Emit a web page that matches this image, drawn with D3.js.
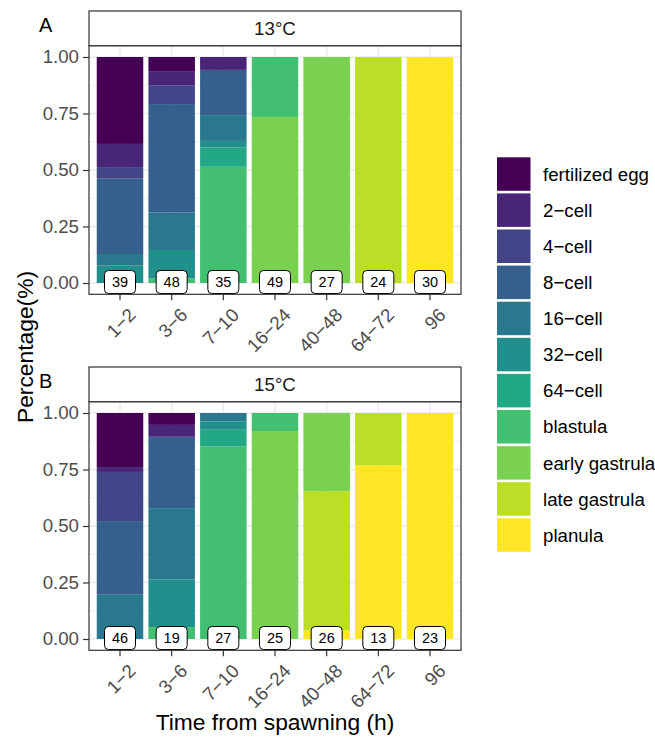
<!DOCTYPE html>
<html>
<head>
<meta charset="utf-8">
<script src="https://cdn.jsdelivr.net/npm/d3@7"></script>
<style>
  body { margin: 0; background: #fff; }
  text { font-family: "Liberation Sans", Arial, sans-serif; }
</style>
</head>
<body>
<svg id="chart" width="655" height="740"></svg>
<script>
// developmental stages, top of stack first
var stages = ["fertilized egg", "2\u2212cell", "4\u2212cell", "8\u2212cell", "16\u2212cell",
  "32\u2212cell", "64\u2212cell", "blastula", "early gastrula", "late gastrula", "planula"];
var stageColors = ["#440154", "#482576", "#414487", "#35608D", "#2A788E", "#21908C",
  "#22A884", "#43BF71", "#7AD151", "#BBDF27", "#FDE725"];
var times = ["1\u22122", "3\u22126", "7\u221210", "16\u221224", "40\u221248", "64\u221272", "96"];

// embryo counts per stage (rows follow stages) for each time
var counts13 = [
  [15, 3, 0, 0, 0, 0, 0],
  [4, 3, 2, 0, 0, 0, 0],
  [2, 4, 0, 0, 0, 0, 0],
  [13, 23, 7, 0, 0, 0, 0],
  [2, 8, 4, 0, 0, 0, 0],
  [3, 6, 1, 0, 0, 0, 0],
  [0, 0, 3, 0, 0, 0, 0],
  [0, 1, 18, 13, 0, 0, 0],
  [0, 0, 0, 36, 27, 0, 0],
  [0, 0, 0, 0, 0, 24, 0],
  [0, 0, 0, 0, 0, 0, 30]
];
var counts15 = [
  [11, 1, 0, 0, 0, 0, 0],
  [1, 1, 0, 0, 0, 0, 0],
  [10, 0, 0, 0, 0, 0, 0],
  [15, 6, 0, 0, 0, 0, 0],
  [9, 6, 1, 0, 0, 0, 0],
  [0, 4, 1, 0, 0, 0, 0],
  [0, 0, 2, 0, 0, 0, 0],
  [0, 1, 23, 2, 0, 0, 0],
  [0, 0, 0, 23, 9, 0, 0],
  [0, 0, 0, 0, 16, 3, 0],
  [0, 0, 0, 0, 1, 10, 23]
];
var n13 = [39, 48, 35, 49, 27, 24, 30];
var n15 = [46, 19, 27, 25, 26, 13, 23];
var yTicks = [0, 0.25, 0.5, 0.75, 1];
var yMinor = [0.125, 0.375, 0.625, 0.875];

var svg = d3.select("#chart");
var left = 89, right = 461;

var x = d3.scaleBand().domain(times).range([left, right])
  .paddingInner(0.1).paddingOuter(0.15);
var color = d3.scaleOrdinal().domain(stages).range(stageColors);

function drawPanel(counts, nums, title, tag, stripTop) {
  var top = stripTop + 34.7, bottom = top + 248.6;
  var y = d3.scaleLinear().domain([-0.05, 1.05]).range([bottom, top]);
  var g = svg.append("g");

  // table -> rows per time
  var rows = times.map(function (t, i) {
    var r = { time: t };
    stages.forEach(function (s, k) { r[s] = counts[k][i]; });
    return r;
  });
  var stack = d3.stack().keys(stages.slice().reverse()).offset(d3.stackOffsetExpand);
  var series = stack(rows);

  // grid
  g.selectAll(".minor").data(yMinor).enter().append("line")
    .attr("x1", left).attr("x2", right)
    .attr("y1", function (d) { return y(d); }).attr("y2", function (d) { return y(d); })
    .attr("stroke", "#ebebeb").attr("stroke-width", 0.8);
  g.selectAll(".major").data(yTicks).enter().append("line")
    .attr("x1", left).attr("x2", right)
    .attr("y1", function (d) { return y(d); }).attr("y2", function (d) { return y(d); })
    .attr("stroke", "#ebebeb").attr("stroke-width", 1.5);
  g.selectAll(".vgrid").data(times).enter().append("line")
    .attr("x1", function (d) { return x(d) + x.bandwidth() / 2; })
    .attr("x2", function (d) { return x(d) + x.bandwidth() / 2; })
    .attr("y1", top).attr("y2", bottom)
    .attr("stroke", "#ebebeb").attr("stroke-width", 1.5);

  // bars
  g.selectAll(".layer").data(series).enter().append("g")
    .attr("fill", function (d) { return color(d.key); })
    .selectAll("rect").data(function (d) { return d; }).enter().append("rect")
    .attr("x", function (d) { return x(d.data.time); })
    .attr("width", x.bandwidth())
    .attr("y", function (d) { return y(d[1]); })
    .attr("height", function (d) { return y(d[0]) - y(d[1]); });

  // sample size labels
  var lab = g.selectAll(".lab").data(times).enter().append("g")
    .attr("transform", function (d) {
      return "translate(" + (x(d) + x.bandwidth() / 2) + "," + (y(0) - 1) + ")";
    });
  lab.append("rect")
    .attr("x", -15.5).attr("y", -11.5).attr("width", 31).attr("height", 23)
    .attr("rx", 4).attr("fill", "#fff").attr("stroke", "#000").attr("stroke-width", 1);
  lab.append("text")
    .attr("text-anchor", "middle").attr("dy", "0.36em")
    .attr("font-size", 14.5).attr("fill", "#000")
    .text(function (d, i) { return nums[i]; });

  // border
  g.append("rect").attr("x", left).attr("y", top)
    .attr("width", right - left).attr("height", bottom - top)
    .attr("fill", "none").attr("stroke", "#333").attr("stroke-width", 1.2);

  // strip
  g.append("rect").attr("x", left).attr("y", stripTop)
    .attr("width", right - left).attr("height", top - stripTop)
    .attr("fill", "#fff").attr("stroke", "#333").attr("stroke-width", 1.2);
  g.append("text").attr("x", (left + right) / 2).attr("y", (stripTop + top) / 2)
    .attr("dy", "0.36em").attr("text-anchor", "middle")
    .attr("font-size", 18.7).attr("fill", "#1a1a1a").text(title);

  // y axis
  var ya = g.append("g").attr("transform", "translate(" + left + ",0)")
    .call(d3.axisLeft(y).tickValues(yTicks).tickFormat(d3.format(".2f"))
      .tickSize(6).tickPadding(4));
  ya.select(".domain").remove();
  ya.selectAll("line").attr("stroke", "#333").attr("stroke-width", 1.2);
  ya.selectAll("text").attr("font-size", 18.7).attr("fill", "#4d4d4d")
    .style("font-family", "'Liberation Sans', Arial, sans-serif");

  // x axis
  var xa = g.append("g").attr("transform", "translate(0," + bottom + ")")
    .call(d3.axisBottom(x).tickSize(6).tickPadding(4));
  xa.select(".domain").remove();
  xa.selectAll("line").attr("stroke", "#333").attr("stroke-width", 1.2);
  xa.selectAll("text")
    .attr("font-size", 18.7).attr("fill", "#4d4d4d")
    .style("font-family", "'Liberation Sans', Arial, sans-serif")
    .attr("text-anchor", "end").attr("dy", "0.75em").attr("y", 0)
    .attr("transform", "translate(7,12) rotate(-45)");

  // panel tag
  svg.append("text").attr("x", 39).attr("y", stripTop + 21)
    .attr("font-size", 20).attr("fill", "#000").text(tag);
}

drawPanel(counts13, n13, "13\u00B0C", "A", 11);
drawPanel(counts15, n15, "15\u00B0C", "B", 367);

// axis titles
svg.append("text").attr("x", 275).attr("y", 730).attr("text-anchor", "middle")
  .attr("font-size", 22.8).attr("fill", "#000").text("Time from spawning (h)");
svg.append("text").attr("transform", "translate(33,347) rotate(-90)")
  .attr("text-anchor", "middle").attr("font-size", 22.8).attr("fill", "#000")
  .text("Percentage(%)");

// legend
var leg = svg.append("g").attr("transform", "translate(497,157.3)");
var item = leg.selectAll("g").data(stages).enter().append("g")
  .attr("transform", function (d, i) { return "translate(0," + i * 36.1 + ")"; });
item.append("rect").attr("width", 33.5).attr("height", 33.5)
  .attr("fill", function (d) { return color(d); });
item.append("text").attr("x", 46).attr("y", 16.75).attr("dy", "0.36em")
  .attr("font-size", 18.7).attr("fill", "#000").text(function (d) { return d; });
</script>
</body>
</html>
